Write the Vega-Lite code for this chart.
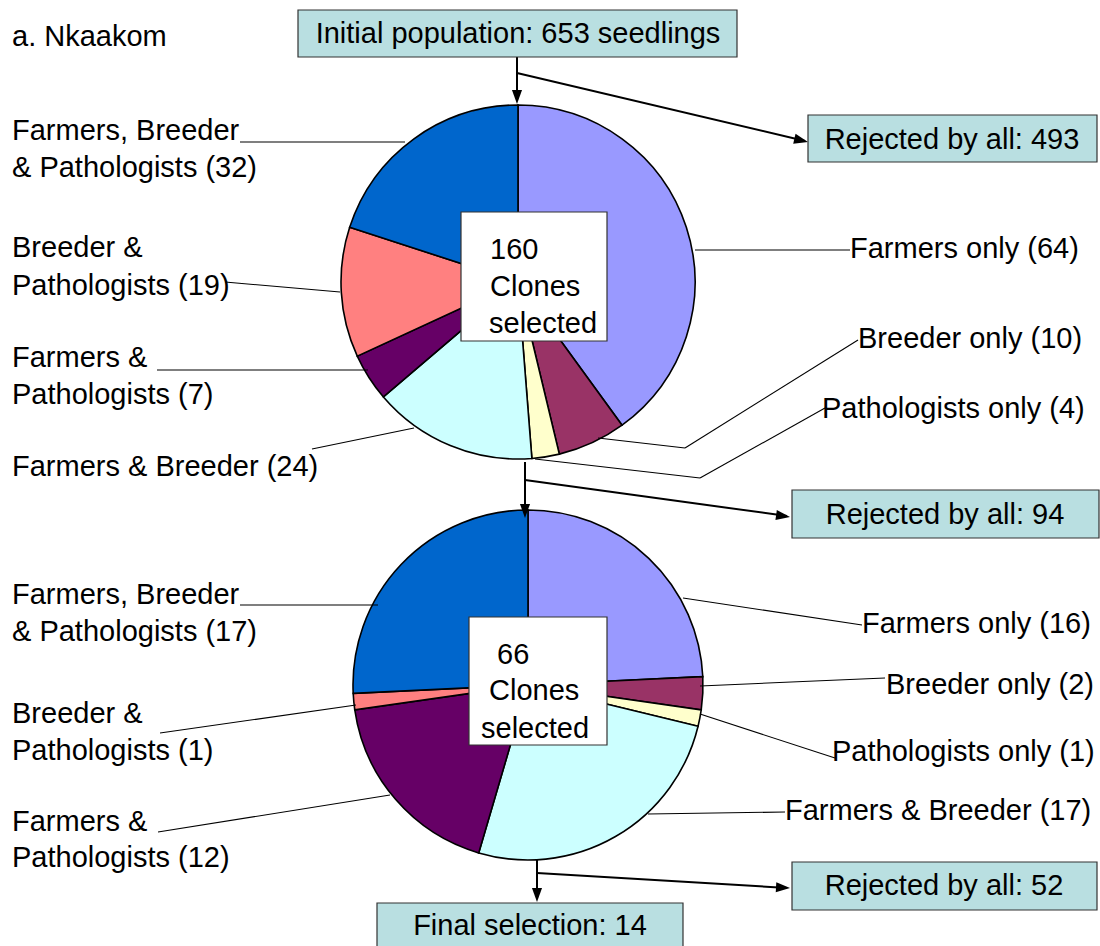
{
  "$schema": "https://vega.github.io/schema/vega-lite/v6.json",
  "width": 1100,
  "height": 946,
  "padding": 0,
  "autosize": "none",
  "config": {"view": {"stroke": null}},
  "datasets": {
    "slices": [
      {"pie": 1, "cat": "Farmers only", "n": 64, "ord": 1},
      {"pie": 1, "cat": "Breeder only", "n": 10, "ord": 2},
      {"pie": 1, "cat": "Pathologists only", "n": 4, "ord": 3},
      {"pie": 1, "cat": "Farmers & Breeder", "n": 24, "ord": 4},
      {"pie": 1, "cat": "Farmers & Pathologists", "n": 7, "ord": 5},
      {"pie": 1, "cat": "Breeder & Pathologists", "n": 19, "ord": 6},
      {"pie": 1, "cat": "Farmers, Breeder & Pathologists", "n": 32, "ord": 7},
      {"pie": 2, "cat": "Farmers only", "n": 16, "ord": 1},
      {"pie": 2, "cat": "Breeder only", "n": 2, "ord": 2},
      {"pie": 2, "cat": "Pathologists only", "n": 1, "ord": 3},
      {"pie": 2, "cat": "Farmers & Breeder", "n": 17, "ord": 4},
      {"pie": 2, "cat": "Farmers & Pathologists", "n": 12, "ord": 5},
      {"pie": 2, "cat": "Breeder & Pathologists", "n": 1, "ord": 6},
      {"pie": 2, "cat": "Farmers, Breeder & Pathologists", "n": 17, "ord": 7}
    ],
    "boxes": [
      {"kind": "teal", "x": 298, "x2": 737, "y": 10, "y2": 57},
      {"kind": "teal", "x": 808, "x2": 1097, "y": 115, "y2": 162},
      {"kind": "teal", "x": 792, "x2": 1099, "y": 490, "y2": 538},
      {"kind": "teal", "x": 792, "x2": 1097, "y": 862, "y2": 910},
      {"kind": "teal", "x": 377, "x2": 683, "y": 903, "y2": 950},
      {"kind": "white", "x": 461, "x2": 607, "y": 212, "y2": 341},
      {"kind": "white", "x": 469, "x2": 607, "y": 617, "y2": 745}
    ],
    "segs": [
      {"kind": "arrow", "x": 517, "y": 57, "x2": 517, "y2": 100},
      {"kind": "arrow", "x": 517, "y": 73, "x2": 805, "y2": 141},
      {"kind": "arrow", "x": 525, "y": 462, "x2": 525, "y2": 514},
      {"kind": "arrow", "x": 525, "y": 480, "x2": 787, "y2": 516},
      {"kind": "arrow", "x": 537, "y": 860, "x2": 537, "y2": 898},
      {"kind": "arrow", "x": 537, "y": 873, "x2": 787, "y2": 888},
      {"kind": "leader", "x": 240, "y": 142, "x2": 405, "y2": 142},
      {"kind": "leader", "x": 225, "y": 282, "x2": 340, "y2": 292},
      {"kind": "leader", "x": 157, "y": 370, "x2": 368, "y2": 370},
      {"kind": "leader", "x": 312, "y": 449, "x2": 414, "y2": 428},
      {"kind": "leader", "x": 695, "y": 250, "x2": 850, "y2": 250},
      {"kind": "leader", "x": 598, "y": 438, "x2": 685, "y2": 448},
      {"kind": "leader", "x": 685, "y": 448, "x2": 858, "y2": 340},
      {"kind": "leader", "x": 535, "y": 459, "x2": 700, "y2": 478},
      {"kind": "leader", "x": 700, "y": 478, "x2": 825, "y2": 408},
      {"kind": "leader", "x": 240, "y": 605, "x2": 378, "y2": 605},
      {"kind": "leader", "x": 160, "y": 733, "x2": 356, "y2": 705},
      {"kind": "leader", "x": 158, "y": 832, "x2": 390, "y2": 795},
      {"kind": "leader", "x": 683, "y": 598, "x2": 862, "y2": 625},
      {"kind": "leader", "x": 700, "y": 686, "x2": 885, "y2": 678},
      {"kind": "leader", "x": 700, "y": 714, "x2": 835, "y2": 758},
      {"kind": "leader", "x": 648, "y": 814, "x2": 785, "y2": 812}
    ],
    "heads": [
      {"x": 517, "y": 104, "dir": 180},
      {"x": 808, "y": 142, "dir": 103.3},
      {"x": 525, "y": 518, "dir": 180},
      {"x": 790, "y": 517, "dir": 97.9},
      {"x": 537, "y": 902, "dir": 180},
      {"x": 790, "y": 888, "dir": 93.4}
    ],
    "texts": [
      {"align": "left", "x": 12, "y": 46, "t": "a. Nkaakom"},
      {"align": "left", "x": 12, "y": 140, "t": "Farmers, Breeder"},
      {"align": "left", "x": 12, "y": 177, "t": "& Pathologists (32)"},
      {"align": "left", "x": 12, "y": 257, "t": "Breeder &"},
      {"align": "left", "x": 12, "y": 295, "t": "Pathologists (19)"},
      {"align": "left", "x": 12, "y": 367, "t": "Farmers &"},
      {"align": "left", "x": 12, "y": 404, "t": "Pathologists (7)"},
      {"align": "left", "x": 12, "y": 476, "t": "Farmers & Breeder (24)"},
      {"align": "left", "x": 12, "y": 604, "t": "Farmers, Breeder"},
      {"align": "left", "x": 12, "y": 641, "t": "& Pathologists (17)"},
      {"align": "left", "x": 12, "y": 723, "t": "Breeder &"},
      {"align": "left", "x": 12, "y": 760, "t": "Pathologists (1)"},
      {"align": "left", "x": 12, "y": 831, "t": "Farmers &"},
      {"align": "left", "x": 12, "y": 867, "t": "Pathologists (12)"},
      {"align": "left", "x": 850, "y": 258, "t": "Farmers only (64)"},
      {"align": "left", "x": 858, "y": 348, "t": "Breeder only (10)"},
      {"align": "left", "x": 822, "y": 418, "t": "Pathologists only (4)"},
      {"align": "left", "x": 862, "y": 633, "t": "Farmers only (16)"},
      {"align": "left", "x": 886, "y": 694, "t": "Breeder only (2)"},
      {"align": "left", "x": 832, "y": 761, "t": "Pathologists only (1)"},
      {"align": "left", "x": 785, "y": 820, "t": "Farmers & Breeder (17)"},
      {"align": "left", "x": 490, "y": 259, "t": "160"},
      {"align": "left", "x": 490, "y": 296, "t": "Clones"},
      {"align": "left", "x": 489, "y": 333, "t": "selected"},
      {"align": "left", "x": 497, "y": 664, "t": "66"},
      {"align": "left", "x": 489, "y": 700, "t": "Clones"},
      {"align": "left", "x": 481, "y": 738, "t": "selected"},
      {"align": "center", "x": 518, "y": 43, "t": "Initial population: 653 seedlings"},
      {"align": "center", "x": 952, "y": 149, "t": "Rejected by all: 493"},
      {"align": "center", "x": 945, "y": 524, "t": "Rejected by all: 94"},
      {"align": "center", "x": 944, "y": 895, "t": "Rejected by all: 52"},
      {"align": "center", "x": 530, "y": 935, "t": "Final selection: 14"}
    ]
  },
  "encoding": {
    "x": {"type": "quantitative", "scale": {"domain": [0, 1100], "zero": false, "nice": false}, "axis": null},
    "y": {"type": "quantitative", "scale": {"domain": [0, 946], "reverse": true, "zero": false, "nice": false}, "axis": null}
  },
  "layer": [
    {
      "data": {"name": "slices"},
      "transform": [{"filter": "datum.pie == 1"}],
      "mark": {"type": "arc", "radius": 177, "stroke": "black", "strokeWidth": 1.6},
      "encoding": {
        "x": {"datum": 518, "type": "quantitative"},
        "y": {"datum": 282, "type": "quantitative"},
        "theta": {"field": "n", "type": "quantitative", "stack": true},
        "order": {"field": "ord"},
        "color": {"field": "cat", "type": "nominal", "legend": null,
          "scale": {"domain": ["Farmers only", "Breeder only", "Pathologists only", "Farmers & Breeder", "Farmers & Pathologists", "Breeder & Pathologists", "Farmers, Breeder & Pathologists"],
                    "range": ["#9999FF", "#993366", "#FFFFCC", "#CCFFFF", "#660066", "#FF8080", "#0066CC"]}}
      }
    },
    {
      "data": {"name": "slices"},
      "transform": [{"filter": "datum.pie == 2"}],
      "mark": {"type": "arc", "radius": 175, "stroke": "black", "strokeWidth": 1.6},
      "encoding": {
        "x": {"datum": 528, "type": "quantitative"},
        "y": {"datum": 685, "type": "quantitative"},
        "theta": {"field": "n", "type": "quantitative", "stack": true},
        "order": {"field": "ord"},
        "color": {"field": "cat", "type": "nominal", "legend": null}
      }
    },
    {
      "data": {"name": "segs"},
      "transform": [{"filter": "datum.kind == 'leader'"}],
      "mark": {"type": "rule", "color": "black", "strokeWidth": 1.1},
      "encoding": {
        "x": {"field": "x"}, "y": {"field": "y"},
        "x2": {"field": "x2"}, "y2": {"field": "y2"}
      }
    },
    {
      "data": {"name": "segs"},
      "transform": [{"filter": "datum.kind == 'arrow'"}],
      "mark": {"type": "rule", "color": "black", "strokeWidth": 2},
      "encoding": {
        "x": {"field": "x"}, "y": {"field": "y"},
        "x2": {"field": "x2"}, "y2": {"field": "y2"}
      }
    },
    {
      "data": {"name": "heads"},
      "mark": {"type": "point", "filled": true, "color": "black", "opacity": 1, "size": 784, "shape": "M0,0L0.36,1L-0.36,1Z", "strokeWidth": 0},
      "encoding": {
        "x": {"field": "x"}, "y": {"field": "y"},
        "angle": {"field": "dir", "type": "quantitative", "scale": null}
      }
    },
    {
      "data": {"name": "boxes"},
      "transform": [{"filter": "datum.kind == 'teal'"}],
      "mark": {"type": "rect", "fill": "#B9DFE1", "stroke": "#333333", "strokeWidth": 1.2},
      "encoding": {
        "x": {"field": "x"}, "y": {"field": "y"},
        "x2": {"field": "x2"}, "y2": {"field": "y2"}
      }
    },
    {
      "data": {"name": "boxes"},
      "transform": [{"filter": "datum.kind == 'white'"}],
      "mark": {"type": "rect", "fill": "white", "stroke": "#333333", "strokeWidth": 1.2},
      "encoding": {
        "x": {"field": "x"}, "y": {"field": "y"},
        "x2": {"field": "x2"}, "y2": {"field": "y2"}
      }
    },
    {
      "data": {"name": "texts"},
      "transform": [{"filter": "datum.align == 'left'"}],
      "mark": {"type": "text", "align": "left", "baseline": "alphabetic", "font": "Liberation Sans", "fontSize": 29, "color": "black"},
      "encoding": {
        "x": {"field": "x"}, "y": {"field": "y"},
        "text": {"field": "t"}
      }
    },
    {
      "data": {"name": "texts"},
      "transform": [{"filter": "datum.align == 'center'"}],
      "mark": {"type": "text", "align": "center", "baseline": "alphabetic", "font": "Liberation Sans", "fontSize": 29, "color": "black"},
      "encoding": {
        "x": {"field": "x"}, "y": {"field": "y"},
        "text": {"field": "t"}
      }
    }
  ],
  "resolve": {"scale": {"theta": "independent"}}
}
